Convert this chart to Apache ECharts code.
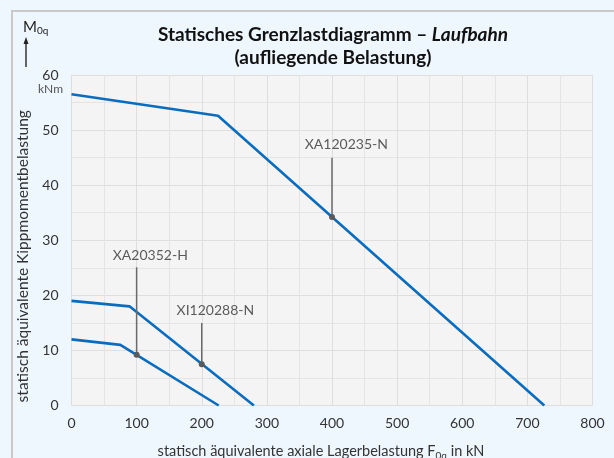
<!DOCTYPE html>
<html>
<head>
<meta charset="utf-8">
<script src="https://cdn.jsdelivr.net/npm/echarts@6/dist/echarts.min.js"></script>
<style>
html,body{margin:0;padding:0;background:#eef7fe;}
#chart{width:614px;height:458px;}
</style>
</head>
<body>
<div id="chart"></div>
<script>
// ---- data ----
const xTicks = [0, 100, 200, 300, 400, 500, 600, 700, 800];
const yTicks = [0, 10, 20, 30, 40, 50, 60];
const seriesNames = ['XA120235-N', 'XI120288-N', 'XA20352-H'];
const xa120235X = [0, 225, 726];
const xa120235Y = [56.5, 52.6, 0];
const xi120288X = [0, 89, 280];
const xi120288Y = [19, 18, 0];
const xa20352X = [0, 75, 226];
const xa20352Y = [12, 11, 0];
// annotation markers (on the curves) and label anchors, data units
const annoX = [400, 200, 100];
const annoMarkY = [34.2, 7.5, 9.2];
const annoTopY = [45, 15, 25.1];
const annoLabelX = [422, 221, 121];
const annoLabelY = [47.3, 17.3, 27.2];

const FONT = 'Lato, "Open Sans", sans-serif';
const chart = echarts.init(document.getElementById('chart'), null, {renderer: 'canvas'});

function pts(xs, ys) { return xs.map((x, i) => [x, ys[i]]); }
const curves = [pts(xa120235X, xa120235Y), pts(xi120288X, xi120288Y), pts(xa20352X, xa20352Y)];

const series = [];
curves.forEach((d, i) => {
  series.push({
    name: seriesNames[i], type: 'line', data: d, symbol: 'none',
    lineStyle: {color: '#0a6cbf', width: 2.6}, z: 3, silent: true
  });
});
annoX.forEach((x, i) => {
  series.push({
    type: 'line', data: [[x, annoMarkY[i]], [x, annoTopY[i]]],
    symbol: (v, p) => p.dataIndex === 0 ? 'circle' : 'none', symbolSize: 6,
    showAllSymbol: true,
    itemStyle: {color: '#5a5a5a'}, lineStyle: {color: '#6a6a6a', width: 1.5}, z: 4, silent: true
  });
  series.push({
    type: 'scatter', data: [[annoLabelX[i], annoLabelY[i]]], symbolSize: 0,
    label: {show: true, position: 'inside', formatter: seriesNames[i], color: '#333', fontSize: 14, fontFamily: FONT},
    z: 5, silent: true
  });
});

chart.setOption({
  backgroundColor: '#eef7fe',
  animation: false,
  title: {
    text: 'Statisches Grenzlastdiagramm – {i|Laufbahn}\n(aufliegende Belastung)',
    left: 328, top: 18, textAlign: 'center',
    textStyle: {
      fontFamily: FONT, fontWeight: 'bold', fontSize: 19, color: '#111', lineHeight: 23,
      rich: {i: {fontFamily: FONT, fontWeight: 'bold', fontStyle: 'italic', fontSize: 19, color: '#111'}}
    }
  },
  grid: {left: 71.5, right: 21.5, top: 75, bottom: 52.5, show: true, backgroundColor: '#f4f4f4', borderWidth: 0,
    outerBoundsMode: 'none', containLabel: false},
  xAxis: {
    type: 'value', min: xTicks[0], max: xTicks[xTicks.length - 1], interval: 100,
    axisLine: {show: false}, axisTick: {show: false},
    axisLabel: {color: '#333', fontSize: 14, fontFamily: FONT, margin: 11},
    splitLine: {show: true, lineStyle: {color: '#dedede', width: 1}},
    minorTick: {show: false, splitNumber: 2},
    minorSplitLine: {show: true, lineStyle: {color: '#e4e4e4', width: 1}},
    name: 'statisch äquivalente axiale Lagerbelastung F{s|0q} in kN',
    nameLocation: 'middle', nameGap: 36,
    nameTextStyle: {color: '#333', fontSize: 14.5, fontFamily: FONT, padding: [0, 22, 0, 0],
      rich: {s: {fontSize: 10, fontFamily: FONT, color: '#333', verticalAlign: 'bottom', padding: [9, 0, 0, 0]}}}
  },
  yAxis: {
    type: 'value', min: yTicks[0], max: yTicks[yTicks.length - 1], interval: 10,
    axisLine: {show: false}, axisTick: {show: false},
    axisLabel: {color: '#333', fontSize: 14, fontFamily: FONT, margin: 13},
    splitLine: {show: true, lineStyle: {color: '#dedede', width: 1}},
    minorTick: {show: false, splitNumber: 2},
    minorSplitLine: {show: true, lineStyle: {color: '#e4e4e4', width: 1}},
    name: 'statisch äquivalente Kippmomentbelastung',
    nameLocation: 'middle', nameGap: 36, nameRotate: 90,
    nameTextStyle: {color: '#333', fontSize: 15.5, fontFamily: FONT, padding: [0, 32, 0, 0]}
  },
  series: series
});

const p60 = chart.convertToPixel({gridIndex: 0}, [0, 60]);
chart.setOption({
  graphic: [
    {type: 'rect', shape: {x: 12, y: 11, width: 700, height: 600}, style: {fill: null, stroke: '#c9c9c9', lineWidth: 2}, silent: true, z: -1},
    {type: 'text', x: p60[0] - 21, y: p60[1] + 14, style: {text: 'kNm', fill: '#555', font: '12px ' + FONT, textAlign: 'center', textVerticalAlign: 'middle'}},
    {type: 'text', x: 23, y: 27, style: {text: 'M{s|0q}', fill: '#222', font: '15px ' + FONT, textVerticalAlign: 'middle',
      rich: {s: {fontSize: 10, fontFamily: FONT, fill: '#222', padding: [7, 0, 0, 0]}}}},
    {type: 'line', shape: {x1: 26, y1: 67, x2: 26, y2: 42}, style: {stroke: '#333', lineWidth: 1.5}},
    {type: 'polygon', shape: {points: [[26, 37], [23.5, 44], [28.5, 44]]}, style: {fill: '#222'}}
  ]
});
</script>
</body>
</html>
